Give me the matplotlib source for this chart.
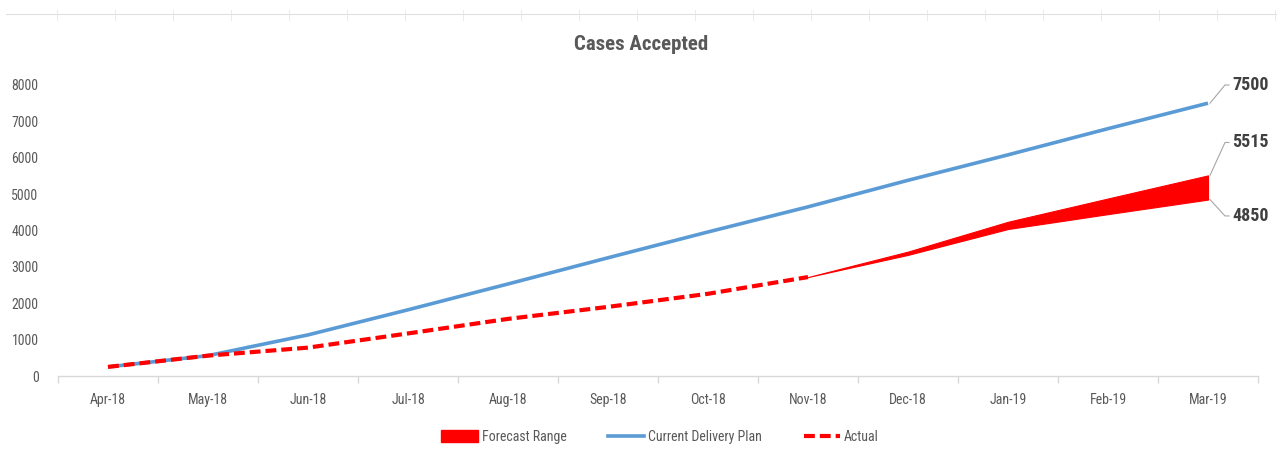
import matplotlib
matplotlib.use("Agg")
import matplotlib.pyplot as plt
from matplotlib import font_manager
from matplotlib.patches import Patch
from matplotlib.lines import Line2D

def has_regular(name):
    for f in font_manager.fontManager.ttflist:
        if f.name == name and f.weight in (400, "normal", "regular") and f.style == "normal":
            return True
    return False

cands = ["Roboto Condensed", "Liberation Sans Narrow", "Noto Sans Condensed",
         "Open Sans Condensed", "DejaVu Sans Condensed"]
FONT = next((c for c in cands if has_regular(c)), None)
STRETCH = "normal"
if FONT is None:
    FONT = "DejaVu Sans"
    STRETCH = "condensed"
plt.rcParams['font.family'] = [FONT, 'DejaVu Sans']
plt.rcParams['font.stretch'] = STRETCH

months = ["Apr-18", "May-18", "Jun-18", "Jul-18", "Aug-18", "Sep-18",
          "Oct-18", "Nov-18", "Dec-18", "Jan-19", "Feb-19", "Mar-19"]
plan = [250, 560, 1130, 1820, 2530, 3250, 3960, 4650, 5380, 6080, 6800, 7500]
actual = [250, 560, 780, 1170, 1570, 1900, 2260, 2720]
forecast_low = [2720, 3330, 4040, 4450, 4850]
forecast_high = [2720, 3420, 4240, 4880, 5515]
yticks = [0, 1000, 2000, 3000, 4000, 5000, 6000, 7000, 8000]

GRAY = "#595959"
RED = "#ff0000"
BLUE = "#5b9bd5"

fig = plt.figure(figsize=(12.82, 4.59), dpi=100)
ax = fig.add_axes([58/1282, (459-376)/459, 1200/1282, (376-85)/459])

x = list(range(len(months)))
fx = x[len(actual)-1:]
ax.fill_between(fx, forecast_low, forecast_high, color=RED, lw=0.8, zorder=2)
ax.plot(x, plan, color=BLUE, lw=2.6, zorder=3, solid_capstyle='butt')
ax.plot(x[:len(actual)], actual, color=RED, lw=3.0, dashes=(2.6, 1.2), zorder=4)

ax.set_xlim(-0.5, len(months)-0.5)
ax.set_ylim(0, 8000)
ax.set_yticks(yticks)
ax.set_yticklabels([str(v) for v in yticks], fontsize=10, color=GRAY)
ax.set_xticks(x)
ax.set_xticklabels(months, fontsize=10, color=GRAY)
ax.tick_params(axis='y', length=0, pad=14)
ax.tick_params(axis='x', length=0, pad=12)
ax.set_xticks([i + 0.5 for i in range(-1, len(months))], minor=True)
ax.tick_params(axis='x', which='minor', length=5, color="#d9d9d9", width=1)
for s in ["top", "right", "left"]:
    ax.spines[s].set_visible(False)
ax.spines["bottom"].set_color("#d9d9d9")
ax.spines["bottom"].set_linewidth(1)

fig.text(0.5, 1 - 45/459, "Cases Accepted", fontsize=15, fontweight="bold",
         color=GRAY, ha="center", va="center")

# end labels with leader lines
xe = x[-1]
def endlabel(val, ty, text):
    ax.plot([xe + 0.02, xe + 0.17, xe + 0.21], [val, ty, ty], color="#a6a6a6",
            lw=0.8, clip_on=False, zorder=1)
    ax.text(xe + 0.24, ty, text, fontsize=13, fontweight="bold", color="#404040",
            ha="left", va="center", clip_on=False)
endlabel(plan[-1], 8000, str(plan[-1]))
endlabel(forecast_high[-1], 6420, str(forecast_high[-1]))
endlabel(forecast_low[-1], 4400, str(forecast_low[-1]))

handles = [Patch(facecolor=RED, edgecolor=RED),
           Line2D([], [], color=BLUE, lw=2.6),
           Line2D([], [], color=RED, lw=3.0, dashes=(2.6, 1.2))]
fig.legend(handles, ["Forecast Range", "Current Delivery Plan", "Actual"],
           loc="center", bbox_to_anchor=(0.515, (459-437)/459), ncol=3,
           frameon=False, fontsize=10, labelcolor=GRAY, handlelength=2.6,
           handleheight=0.9, handletextpad=0.3, columnspacing=3.0)

# faint spreadsheet edge at top
fig.add_artist(Line2D([0.005, 0.995], [1-14/459, 1-14/459], color="#e0e0e0", lw=0.8))
for px in range(57, 1282, 58):
    fig.add_artist(Line2D([px/1282, px/1282], [1-10/459, 1-20/459], color="#e6e6e6", lw=0.6))

fig.savefig("out.png", dpi=100, facecolor="white")
